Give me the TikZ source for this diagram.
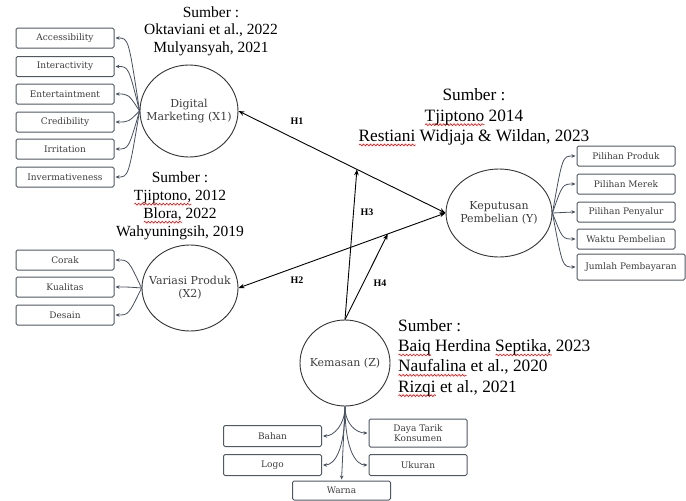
\documentclass[tikz,border=0pt]{standalone}
\usepackage{fontspec}
\setmainfont{Liberation Serif}
\newfontfamily\nf{DejaVu Serif}
\usetikzlibrary{shapes.geometric,arrows.meta,calc,decorations.pathmorphing}
\newsavebox\sqbox
\newcommand\sq[1]{\sbox\sqbox{#1}\leavevmode\rlap{\smash{\tikz[baseline=0pt,x=1pt,y=1pt]\draw[red,line width=0.6pt,decorate,decoration={snake,amplitude=0.9pt,segment length=3.5pt}] (0,-3.5) -- (\the\wd\sqbox,-3.5);}}\usebox\sqbox}
\definecolor{boxc}{RGB}{80,88,100}
\definecolor{txtc}{RGB}{60,60,60}
\definecolor{fanc}{RGB}{70,80,95}
\begin{document}
\begin{tikzpicture}[x=1pt,y=-1pt,
 ind/.style={draw=boxc, line width=1pt, rounded corners=1.5pt, minimum width=98pt, minimum height=20pt, inner sep=1pt, font=\nf\fontsize{9}{10.5}\selectfont, text=txtc, align=center},
 lat/.style={draw=black!80, line width=0.9pt, ellipse, inner sep=0pt},
 lattxt/.style={font=\nf\fontsize{11}{13}\selectfont, text=txtc, align=center, inner sep=0pt},
 fan/.style={draw=fanc, line width=0.8pt, shorten >=1pt, -{Stealth[length=4pt,width=3.5pt]}},
 hyp/.style={draw=black, line width=0.9pt, -{Stealth[length=6pt,width=4.5pt]}},
 hyp2/.style={draw=black, line width=0.9pt, {Stealth[length=6pt,width=4.5pt]}-{Stealth[length=6pt,width=4.5pt]}},
 hl/.style={font=\bfseries\fontsize{10}{11}\selectfont, inner sep=0pt},
 srcA/.style={align=center, inner sep=0pt, font=\fontsize{15.5}{17.5}\selectfont},
 srcB/.style={align=center, inner sep=0pt, font=\fontsize{17.3}{20.3}\selectfont}
]
\useasboundingbox (0,0) rectangle (686,501);

% latent variables
\node[lat, minimum width=98pt, minimum height=92pt] (DM) at (189,111) {};
\node[lattxt] (DMt) at (DM) {Digital\\Marketing (X1)};
\node[lat, minimum width=96pt, minimum height=86pt] (VP) at (190,288) {};
\node[lattxt] (VPt) at (VP) {Variasi Produk\\(X2)};
\node[lat, minimum width=106pt, minimum height=88pt] (KP) at (499,213) {};
\node[lattxt] (KPt) at (KP) {Keputusan\\Pembelian (Y)};
\node[lat, minimum width=90pt, minimum height=86pt] (KZ) at (345,363) {};
\node[lattxt] (KZt) at (KZ) {Kemasan (Z)};

% indicators X1
\node[ind] (a1) at (65,38) {Accessibility};
\node[ind] (a2) at (65,66.5) {Interactivity};
\node[ind] (a3) at (65,94) {Entertaintment};
\node[ind] (a4) at (65,122) {Credibility};
\node[ind] (a5) at (65,149) {Irritation};
\node[ind] (a6) at (65,177) {Invermativeness};
% indicators X2
\node[ind] (v1) at (65,260) {Corak};
\node[ind] (v2) at (65,287) {Kualitas};
\node[ind] (v3) at (65,315) {Desain};
% indicators Y
\node[ind] (y1) at (626,156) {Pilihan Produk};
\node[ind] (y2) at (626,184) {Pilihan Merek};
\node[ind] (y3) at (626,212) {Pilihan Penyalur};
\node[ind] (y4) at (626,239) {Waktu Pembelian};
\node[ind, minimum width=108pt, minimum height=26pt] (y5) at (631,267) {Jumlah Pembayaran};
% indicators Z
\node[ind, minimum height=21pt] (z1) at (272.5,436) {Bahan};
\node[ind, minimum height=21pt] (z2) at (272.5,465) {Logo};
\node[ind, minimum height=28pt, font=\nf\fontsize{9}{9.5}\selectfont] (z3) at (418,433) {Daya Tarik\\Konsumen};
\node[ind, minimum height=21pt] (z4) at (418,465) {Ukuran};
\node[ind, minimum height=19pt] (z5) at (341.5,490.5) {Warna};

% fans
\foreach \b in {a1,a2,a3,a4,a5,a6}
  \draw[fan] (DM.west) .. controls ($(\b.east)+(14,0)$) .. (\b.east);
\foreach \b in {v1,v2,v3}
  \draw[fan] (VP.west) .. controls ($(\b.east)+(14,0)$) .. (\b.east);
\foreach \b in {y1,y2,y3,y4,y5}
  \draw[fan] (KP.east) .. controls ($(\b.west)+(-14,0)$) .. (\b.west);
\draw[fan] (KZ.south) .. controls ($(KZ.south)+(0,18)$) and ($(z1.east)+(12,0)$) .. (z1.east);
\draw[fan] (KZ.south) .. controls ($(KZ.south)+(0,45)$) and ($(z2.east)+(12,0)$) .. (z2.east);
\draw[fan] (KZ.south) .. controls ($(KZ.south)+(0,18)$) and ($(z3.west)+(-12,0)$) .. (z3.west);
\draw[fan] (KZ.south) .. controls ($(KZ.south)+(0,45)$) and ($(z4.west)+(-12,0)$) .. (z4.west);
\draw[fan] (KZ.south) -- (z5.north);

% hypotheses
\draw[hyp2] (DM.east) -- (KP.west) coordinate[pos=0.572] (h3t);
\draw[hyp2] (VP.east) -- (KP.west) coordinate[pos=0.721] (h4t);
\draw[hyp] (KZ.north) -- (h3t);
\draw[hyp] (KZ.north) -- (h4t);
\node[hl] (H1) at (297,121) {H1};
\node[hl] (H2) at (297,280) {H2};
\node[hl] (H3) at (367,212) {H3};
\node[hl] (H4) at (380,283) {H4};

% sources
\node[srcA] (s1) at (211,31) {Sumber :\\Oktaviani et al., 2022\\Mulyansyah, 2021};
\node[srcA, font=\fontsize{15.5}{18}\selectfont] (s2) at (180,206) {Sumber :\\\sq{Tjiptono,} 2012\\\sq{Blora,} 2022\\Wahyuningsih, 2019};
\node[srcB] (s3) at (474,117) {Sumber :\\\sq{Tjiptono} 2014\\\sq{Restiani} Widjaja \& Wildan, 2023};
\node[srcB, align=left, anchor=west] (s4) at (398,357.5) {Sumber :\\\sq{Baiq} Herdina \sq{Septika,} 2023\\\sq{Naufalina} et al., 2020\\\sq{Rizqi} et al., 2021};
\end{tikzpicture}
\end{document}
